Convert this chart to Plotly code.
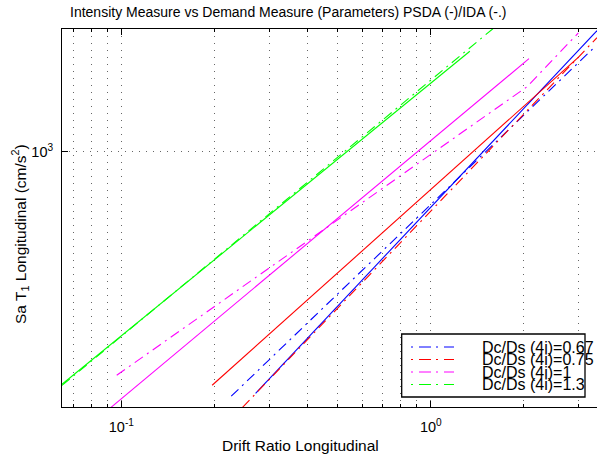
import plotly.graph_objects as go

# ---------------- data ----------------
legend_labels = ["Dc/Ds (4i)=0.67", "Dc/Ds (4i)=0.75", "Dc/Ds (4i)=1", "Dc/Ds (4i)=1.3"]
line_colors = ["#0000ff", "#ff0000", "#ff00ff", "#00ff00"]

# PSDA fits (solid)
psda_drift_067 = [0.2715, 3.444]
psda_sa_067 = [166.0, 2464.0]
psda_drift_075 = [0.1965, 2.99]
psda_sa_075 = [176.2, 2015.0]
psda_drift_1 = [0.0926, 2.076]
psda_sa_1 = [149.5, 2000.0]
psda_drift_13 = [0.0643, 1.337]
psda_sa_13 = [177.5, 2114.0]

# IDA curves (dash-dot)
ida_drift_067 = [0.2265, 3.394]
ida_sa_067 = [162.4, 2187.0]
ida_drift_075 = [0.2464, 3.444]
ida_sa_075 = [149.5, 2338.0]
ida_drift_1 = [0.0966, 2.045, 2.997]
ida_sa_1 = [189.8, 1623.0, 2422.0]
ida_drift_13 = [0.0643, 1.587]
ida_sa_13 = [176.0, 2500.0]

x_tick_vals = [0.1, 1]
x_tick_text = ["10<sup>-1</sup>", "10<sup>0</sup>"]
x_minor_vals = [0.07, 0.08, 0.09, 0.2, 0.3, 0.4, 0.5, 0.6, 0.7, 0.8, 0.9, 2, 3]
y_tick_vals = [1000]
y_tick_text = ["10<sup>3</sup>"]

psda_x = [psda_drift_067, psda_drift_075, psda_drift_1, psda_drift_13]
psda_y = [psda_sa_067, psda_sa_075, psda_sa_1, psda_sa_13]
ida_x = [ida_drift_067, ida_drift_075, ida_drift_1, ida_drift_13]
ida_y = [ida_sa_067, ida_sa_075, ida_sa_1, ida_sa_13]

# ---------------- layout geometry ----------------
W, H = 597, 456
L, R, T, B = 62, 0, 29, 49
PW, PH = W - L - R, H - T - B
FONT = "Liberation Sans, Arial, Helvetica, sans-serif"
DASHDOT = "10px,5px,2px,5px"
GRID = dict(color="#666666", dash="1px,6px")


def fx(px):
    return (px - L) / PW


def fy(py):
    return (H - B - py) / PH


fig = go.Figure()
for i in range(4):
    fig.add_trace(go.Scatter(x=psda_x[i], y=psda_y[i], mode="lines",
                             line=dict(color=line_colors[i], width=1.1),
                             showlegend=False, name=legend_labels[i] + " PSDA"))
    fig.add_trace(go.Scatter(x=ida_x[i], y=ida_y[i], mode="lines",
                             line=dict(color=line_colors[i], width=1.1, dash=DASHDOT),
                             showlegend=False, name=legend_labels[i] + " IDA"))

annotations = [
    dict(text="Intensity Measure vs Demand Measure (Parameters) PSDA (-)/IDA (-.)",
         x=fx(287.5), y=fy(12), xref="paper", yref="paper", showarrow=False,
         xanchor="center", yanchor="middle", font=dict(size=14, color="black", family=FONT)),
    dict(text="Drift Ratio Longitudinal",
         x=fx(300.5), y=fy(445), xref="paper", yref="paper", showarrow=False,
         xanchor="center", yanchor="middle", font=dict(size=15.5, color="black", family=FONT)),
    dict(text="Sa T<sub>1</sub> Longitudinal (cm/s<sup>2</sup>)",
         x=fx(20), y=fy(234), xref="paper", yref="paper", showarrow=False, textangle=-90,
         xanchor="center", yanchor="middle", font=dict(size=15.5, color="black", family=FONT)),
]

# manual legend (MATLAB style, tight rows)
shapes = [dict(type="rect", xref="paper", yref="paper",
               x0=fx(401.7), x1=fx(585), y0=fy(397), y1=fy(334),
               line=dict(color="black", width=1.3), fillcolor="white", layer="above")]
row_y = [347, 359.5, 372, 384.5]
for i in range(4):
    shapes.append(dict(type="line", xref="paper", yref="paper",
                       x0=fx(411), x1=fx(454), y0=fy(row_y[i]), y1=fy(row_y[i]),
                       line=dict(color=line_colors[i], width=1, dash="2px,6px,12px,5px"),
                       layer="above"))
    annotations.append(dict(text=legend_labels[i], x=fx(480), y=fy(row_y[i]),
                            xref="paper", yref="paper", showarrow=False,
                            xanchor="left", yanchor="middle",
                            font=dict(size=16, color="black", family=FONT)))

fig.update_layout(
    width=W, height=H,
    margin=dict(l=L, r=R, t=T, b=B, pad=0),
    paper_bgcolor="white", plot_bgcolor="white",
    font=dict(family=FONT, size=14, color="black"),
    showlegend=False,
    hovermode=False,
    annotations=annotations,
    shapes=shapes,
    xaxis=dict(type="log", range=[-1.1918, 0.537],
               tickmode="array", tickvals=x_tick_vals, ticktext=x_tick_text,
               ticks="inside", ticklen=6, tickcolor="black", tickwidth=1,
               showline=True, linecolor="black", linewidth=1, mirror="ticks",
               showgrid=True, gridcolor=GRID["color"], griddash=GRID["dash"], gridwidth=1,
               zeroline=False, tickfont=dict(size=14.5), ticklabelstandoff=7,
               minor=dict(tickmode="array", tickvals=x_minor_vals, ticks="inside",
                          ticklen=3, tickcolor="black", showgrid=True,
                          gridcolor=GRID["color"], griddash=GRID["dash"], gridwidth=1)),
    yaxis=dict(type="log", range=[2.1757, 3.397],
               tickmode="array", tickvals=y_tick_vals, ticktext=y_tick_text,
               ticks="inside", ticklen=6, tickcolor="black", tickwidth=1,
               showline=True, linecolor="black", linewidth=1, mirror=False,
               showgrid=True, gridcolor=GRID["color"], griddash=GRID["dash"], gridwidth=1,
               zeroline=False, tickfont=dict(size=14.5), ticklabelstandoff=5),
)

fig.write_html("out.html", config={"displayModeBar": False, "staticPlot": True},
               post_script="document.body.style.margin='0';document.body.style.overflow='hidden';")
